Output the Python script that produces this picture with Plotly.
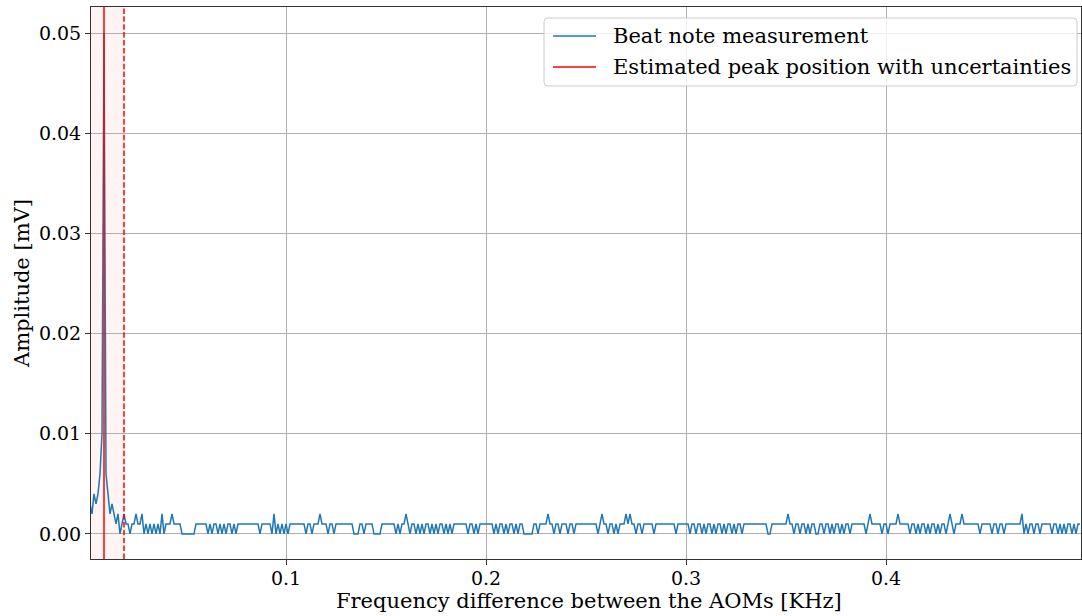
import numpy as np
import plotly.graph_objects as go

# Spectrum of the beat note between the two AOMs (FFT bins, 1 Hz spacing)
freq_start_khz = 0.002
freq_step_khz = 0.001

# Amplitude in ADC steps; one step corresponds to 0.001 mV
ADC_STEP_MV = 0.001
amp_counts = [
    3, 2, 4, 3, 4, 6, 10, 50, 6, 4, 2, 3, 2, 1, 2, 0, 1,
    2, 1, 1, 0, 1, 1, 2, 1, 1, 2,
    0, 1, 0, 1, 0, 1, 0, 1, 0, 2,
    0, 1, 1, 1, 2, 1, 1, 1, 1, 0,
    0, 0, 0, 0, 0, 0, 1, 1, 1, 1,
    1, 1, 0, 1, 0, 1, 1, 0, 1, 0,
    1, 0, 1, 1, 0, 1, 0, 1, 1, 1,
    1, 1, 1, 1, 1, 1, 1, 1, 0, 1,
    1, 1, 1, 1, 0, 2, 0, 1, 0, 1,
    0, 1, 0, 1, 1, 1, 1, 1, 1, 1,
    1, 0, 1, 1, 0, 1, 1, 1, 2, 1,
    1, 1, 0, 1, 1, 0, 1, 1, 1, 1,
    1, 1, 1, 1, 1, 0, 0, 0, 1, 1,
    0, 1, 1, 1, 1, 0, 0, 0, 0, 1,
    1, 1, 1, 1, 1, 1, 0, 1, 0, 1,
    1, 2, 1, 0, 1, 1, 0, 1, 0, 1,
    0, 1, 1, 0, 1, 0, 1, 0, 1, 1,
    0, 1, 0, 1, 0, 1, 1, 1, 1, 1,
    1, 1, 0, 1, 1, 0, 1, 0, 1, 1,
    1, 1, 1, 1, 1, 0, 1, 0, 1, 1,
    0, 1, 0, 1, 1, 0, 1, 0, 1, 1,
    0, 0, 0, 0, 0, 1, 1, 0, 1, 1,
    1, 1, 2, 1, 1, 0, 1, 1, 0, 1,
    1, 1, 0, 1, 1, 0, 1, 1, 1, 1,
    1, 1, 1, 1, 1, 1, 1, 0, 1, 2,
    1, 1, 0, 1, 1, 0, 1, 0, 1, 1,
    1, 2, 1, 2, 1, 1, 0, 1, 1, 0,
    1, 1, 1, 1, 1, 0, 1, 1, 1, 1,
    1, 1, 1, 1, 1, 1, 0, 1, 1, 1,
    1, 1, 1, 0, 1, 1, 0, 1, 1, 0,
    1, 0, 1, 1, 0, 1, 0, 1, 1, 0,
    1, 0, 1, 1, 0, 1, 0, 1, 1, 0,
    1, 1, 1, 1, 1, 1, 1, 1, 1, 1,
    1, 1, 0, 0, 1, 1, 1, 1, 1, 1,
    1, 1, 2, 1, 1, 0, 1, 1, 0, 1,
    1, 0, 1, 0, 1, 1, 0, 0, 1, 1,
    0, 1, 1, 0, 1, 0, 1, 1, 0, 1,
    0, 1, 1, 0, 1, 1, 1, 1, 1, 1,
    1, 0, 1, 2, 1, 1, 1, 1, 1, 0,
    1, 1, 0, 1, 1, 1, 1, 2, 1, 1,
    1, 1, 1, 0, 1, 1, 0, 1, 0, 1,
    1, 0, 1, 0, 1, 1, 0, 1, 0, 1,
    1, 0, 1, 2, 1, 0, 1, 1, 1, 2,
    1, 1, 1, 1, 1, 1, 1, 1, 0, 1,
    1, 1, 1, 1, 0, 1, 1, 0, 1, 1,
    0, 1, 1, 1, 1, 1, 1, 1, 1, 2,
    0, 1, 0, 1, 1, 0, 1, 1, 0, 1,
    1, 1, 1, 1, 0, 1, 1, 0, 1, 0,
    1, 0, 1, 1, 0, 1, 0, 1, 1,
]

# Fitted peak position and its uncertainty [KHz]
peak_khz = 0.009
peak_err_khz = 0.010

legend_labels = ["Beat note measurement", "Estimated peak position with uncertainties"]
x_title = "Frequency difference between the AOMs [KHz]"
y_title = "Amplitude [mV]"

freq = freq_start_khz + freq_step_khz * np.arange(len(amp_counts))
amp = np.array(amp_counts) * ADC_STEP_MV

FONT = "DejaVu Serif"
BLUE = "#1f77b4"
RED = "#ff0000"

fig = go.Figure()
fig.add_trace(go.Scatter(
    x=freq, y=amp, mode="lines", name=legend_labels[0],
    line=dict(color=BLUE, width=1.5), hoverinfo="x+y", showlegend=False,
))

# uncertainty band and bounds
fig.add_shape(type="rect", xref="x", yref="paper",
              x0=peak_khz - peak_err_khz, x1=peak_khz + peak_err_khz, y0=0, y1=1,
              fillcolor="rgba(255,0,0,0.045)", line=dict(width=0), layer="below")
for xb in (peak_khz - peak_err_khz, peak_khz + peak_err_khz):
    fig.add_shape(type="line", xref="x", yref="paper", x0=xb, x1=xb, y0=0, y1=1,
                  line=dict(color=RED, width=1.5, dash="5.5px,2.4px"))
fig.add_shape(type="line", xref="x", yref="paper", x0=peak_khz, x1=peak_khz,
              y0=0, y1=1, line=dict(color=RED, width=1.5))

# legend box drawn in plot-area coordinates
bx0, bx1, by0, by1 = 0.4576, 0.9960, 0.8569, 0.9801
rx, ry = 0.004, 0.007
box_path = (
    f"M {bx0+rx},{by0} L {bx1-rx},{by0} Q {bx1},{by0} {bx1},{by0+ry} "
    f"L {bx1},{by1-ry} Q {bx1},{by1} {bx1-rx},{by1} "
    f"L {bx0+rx},{by1} Q {bx0},{by1} {bx0},{by1-ry} "
    f"L {bx0},{by0+ry} Q {bx0},{by0} {bx0+rx},{by0} Z"
)
fig.add_shape(type="path", xref="paper", yref="paper", path=box_path,
              fillcolor="rgba(255,255,255,0.8)", line=dict(color="#cccccc", width=1))
for label, color, yrow in zip(legend_labels, [BLUE, RED], [0.9475, 0.8913]):
    fig.add_shape(type="line", xref="paper", yref="paper",
                  x0=0.4667, x1=0.5101, y0=yrow, y1=yrow,
                  line=dict(color=color, width=1.5))
    fig.add_annotation(xref="paper", yref="paper", x=0.5253, y=yrow,
                       xanchor="left", yanchor="middle", showarrow=False,
                       text=label, font=dict(family=FONT, size=21, color="black"))

# axis titles
fig.add_annotation(xref="paper", yref="paper", x=0.5035, y=-0.0755,
                   xanchor="center", yanchor="middle", showarrow=False, borderpad=0,
                   text=x_title, font=dict(family=FONT, size=21, color="black"))
fig.add_annotation(xref="paper", yref="paper", x=-0.0697, y=0.5,
                   xanchor="center", yanchor="middle", showarrow=False, textangle=-90,
                   text=y_title, font=dict(family=FONT, size=21, color="black"))

axis_common = dict(
    showline=True, mirror=True, linecolor="#333333", linewidth=1,
    ticks="outside", ticklen=5, tickwidth=1, tickcolor="#333333",
    showgrid=True, gridcolor="#b0b0b0", gridwidth=1, zeroline=False,
    tickfont=dict(family=FONT, size=19, color="black"),
)

fig.update_layout(
    width=1082, height=616,
    margin=dict(l=91, r=1, t=7, b=57),
    paper_bgcolor="white", plot_bgcolor="white",
    font=dict(family=FONT, size=19, color="black"),
    xaxis=dict(
        axis_common, range=[0.0025, 0.4975], ticklabelstandoff=-3,
        tickvals=[0.1, 0.2, 0.3, 0.4], ticktext=["0.1", "0.2", "0.3", "0.4"],
    ),
    yaxis=dict(
        axis_common, range=[-0.0025, 0.0526],
        tickvals=[0, 0.01, 0.02, 0.03, 0.04, 0.05],
        ticktext=["0.00", "0.01", "0.02", "0.03", "0.04", "0.05"],
    ),
    showlegend=False,
)

fig.write_html("out.html")
